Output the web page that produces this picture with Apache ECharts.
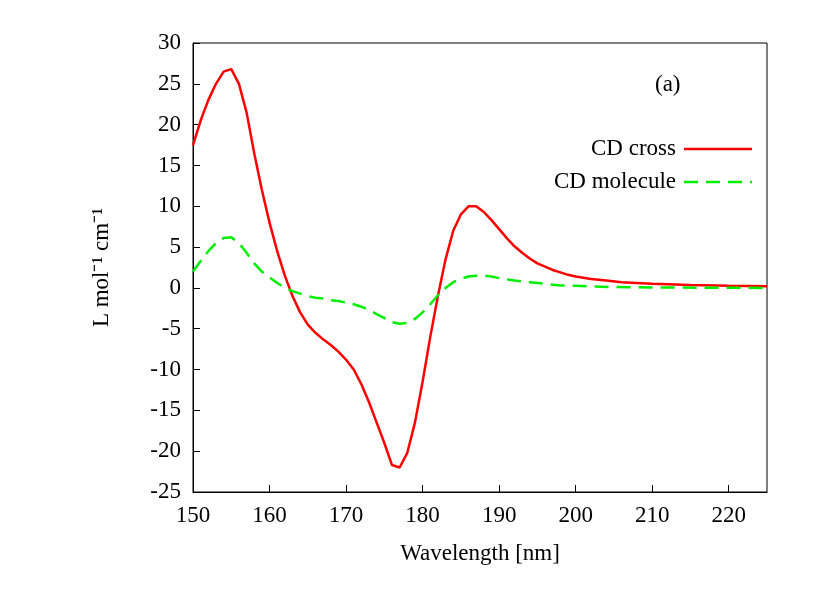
<!DOCTYPE html><html><head><meta charset="utf-8"><script src="https://cdn.jsdelivr.net/npm/echarts@6/dist/echarts.min.js"></script></head><body style="margin:0;background:#fff"><div id="c" style="width:830px;height:600px"></div><script>
const redX=[150,151,152,153,154,155,156,157,158,159,160,161,162,163,164,165,166,167,168,169,170,171,172,173,174,175,176,177,178,179,180,181,182,183,184,185,186,187,188,189,190,191,192,193,194,195,196,197,198,199,200,202,204,206,208,210,215,220,225];
const redY=[17.5,20.5,23,25,26.5,26.8,25,21.5,16.5,12,8,4.5,1.5,-1,-3,-4.5,-5.5,-6.3,-7,-7.8,-8.8,-10,-11.8,-14,-16.5,-19,-21.7,-22,-20.2,-16.5,-11.5,-6,-1,3.5,7,9,10,10,9.3,8.3,7.2,6.1,5.1,4.3,3.6,3,2.6,2.2,1.9,1.6,1.4,1.1,0.9,0.7,0.6,0.5,0.35,0.25,0.2];
const greenX=[150,151,152,153,154,155,156,157,158,159,160,161,162,163,164,165,166,167,168,169,170,171,172,173,174,175,176,177,178,179,180,181,182,183,184,185,186,187,188,189,190,192,194,196,198,200,205,210,225];
const greenY=[2,3.3,4.5,5.5,6.1,6.2,5.5,4.3,3,2,1.3,0.6,0,-0.4,-0.7,-1,-1.2,-1.3,-1.5,-1.6,-1.8,-2,-2.3,-2.7,-3.2,-3.7,-4.2,-4.4,-4.3,-3.8,-3,-2,-0.9,0,0.7,1.1,1.4,1.5,1.5,1.4,1.2,0.9,0.7,0.5,0.3,0.25,0.1,0.05,0];
const F='Liberation Serif';
const ax={axisLine:{onZero:false,lineStyle:{color:'#000',width:1}},axisTick:{inside:true,length:7,lineStyle:{color:'#000'}},splitLine:{show:false},axisLabel:{color:'#000',fontFamily:F,fontSize:23,margin:12,showMaxLabel:false}};
const c=echarts.init(document.getElementById('c'));
const T='23px "Liberation Serif"';
c.setOption({animation:false,
grid:{left:193,right:63,top:43,bottom:108,show:true,borderColor:'#000',borderWidth:1},
graphic:[
{type:'text',left:655,top:73,style:{text:'(a)',font:T,fill:'#000'}},
{type:'text',x:676,y:149,style:{text:'CD cross',font:T,fill:'#000',align:'right',verticalAlign:'middle'}},
{type:'line',shape:{x1:684,y1:149,x2:752,y2:149},style:{stroke:'#f00',lineWidth:2.5}},
{type:'text',x:676,y:182,style:{text:'CD molecule',font:T,fill:'#000',align:'right',verticalAlign:'middle'}},
{type:'line',shape:{x1:684,y1:182,x2:752,y2:182},style:{stroke:'#0e0',lineWidth:2.5,lineDash:[14,8]}}
],
xAxis:{type:'value',min:150,max:225,interval:10,name:'Wavelength [nm]',nameLocation:'middle',nameGap:50,nameTextStyle:{fontFamily:F,fontSize:23,color:'#000'},...ax,axisLabel:{...ax.axisLabel}},
yAxis:{type:'value',min:-25,max:30,interval:5,name:'L mol⁻¹ cm⁻¹',nameLocation:'middle',nameGap:80,nameTextStyle:{fontFamily:F,fontSize:23,color:'#000'},...ax,axisLabel:{...ax.axisLabel,showMaxLabel:true}},
series:[
{name:'CD cross',type:'line',showSymbol:false,data:redX.map((x,i)=>[x,redY[i]]),lineStyle:{color:'#f00',width:2.5}},
{name:'CD molecule',type:'line',showSymbol:false,data:greenX.map((x,i)=>[x,greenY[i]]),lineStyle:{color:'#0e0',width:2.5,type:[14,8]}}
]});
</script></body></html>
